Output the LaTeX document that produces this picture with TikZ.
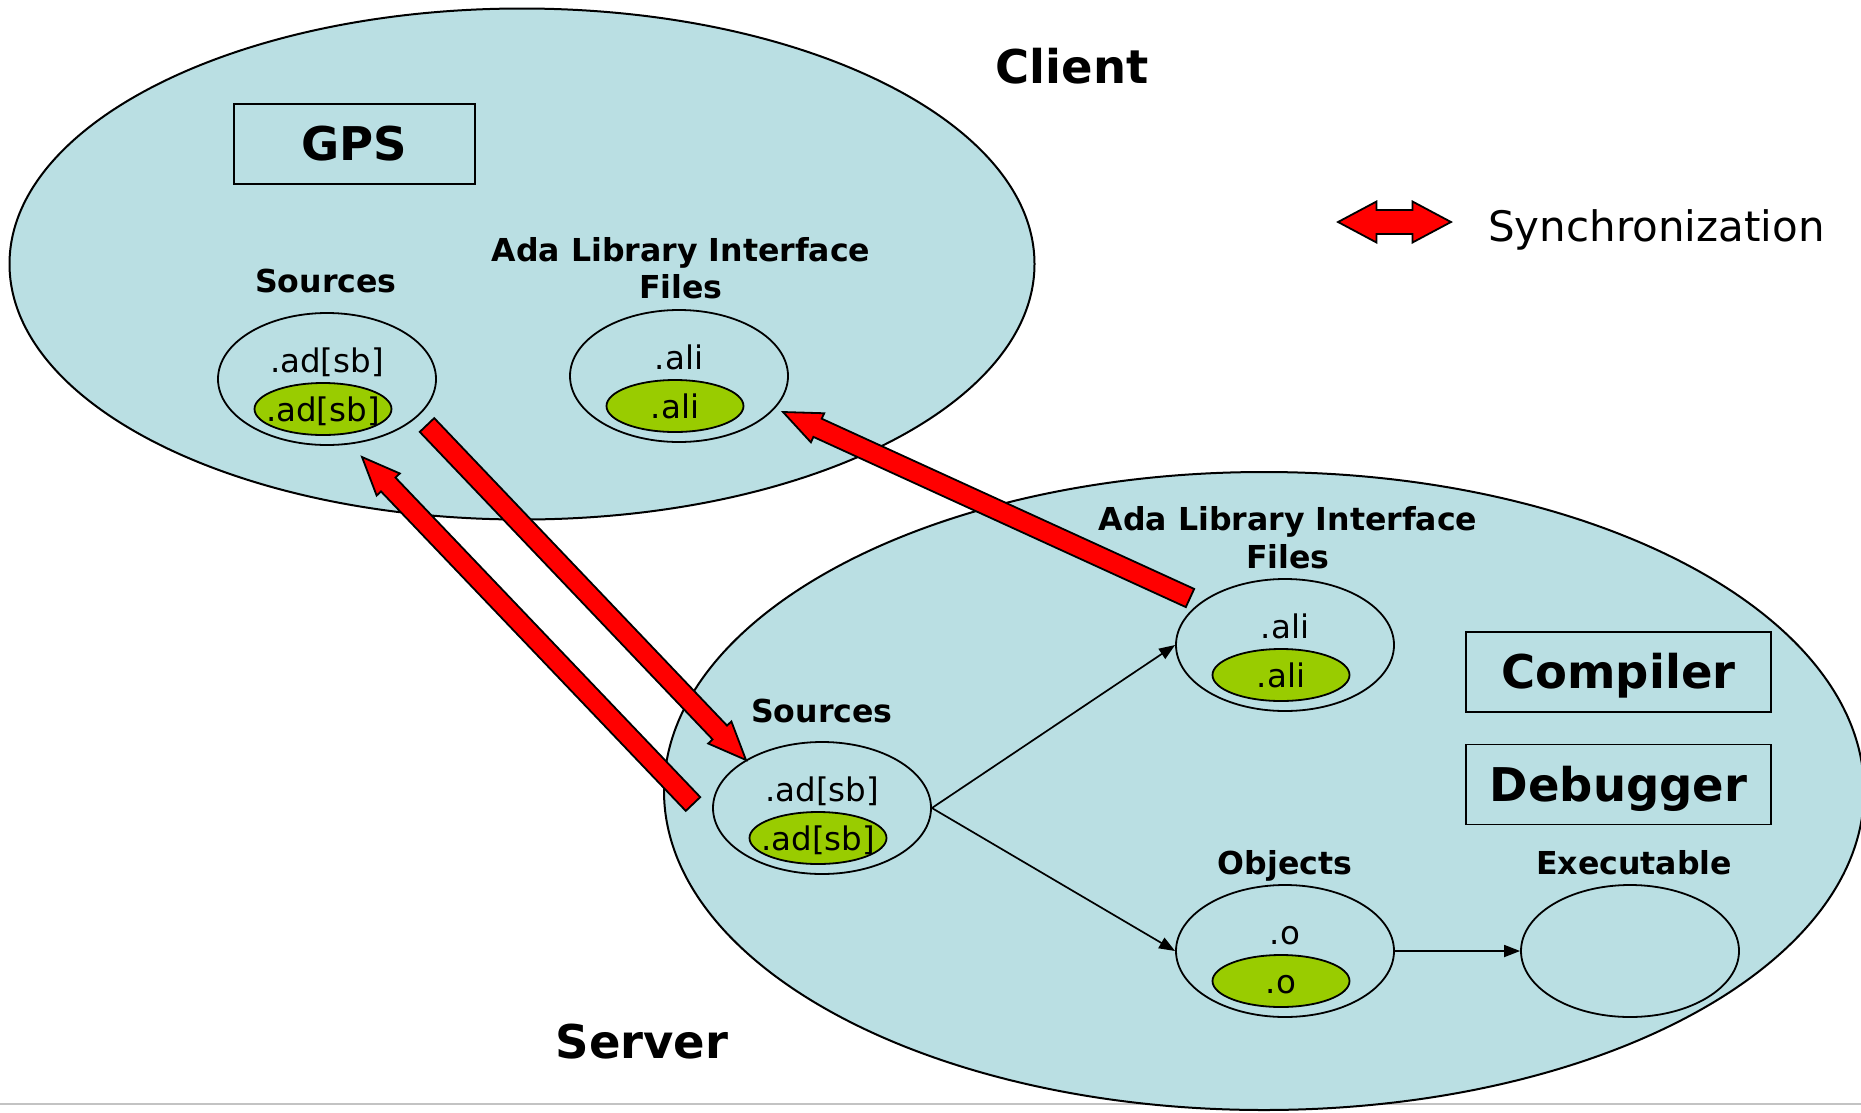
\documentclass[tikz,border=0pt]{standalone}
\usepackage{fontspec}
\setmainfont{DejaVu Sans}
\usetikzlibrary{shapes.geometric,arrows.meta,calc}

\definecolor{pool}{RGB}{186,223,227}
\definecolor{leaf}{RGB}{153,204,0}
\definecolor{sync}{RGB}{255,0,0}
\definecolor{rulegray}{RGB}{195,195,195}

\tikzset{
  region/.style={ellipse, draw=black, line width=2pt, fill=pool, inner sep=0pt},
  filebag/.style={ellipse, draw=black, line width=1.8pt, inner sep=0pt,
    minimum width=218pt, minimum height=132pt},
  filechip/.style={ellipse, draw=black, line width=1.8pt, fill=leaf, inner sep=0pt,
    minimum width=137pt, minimum height=52pt},
  ext/.style={font=\fontsize{32.5}{39}\selectfont, inner sep=0pt, anchor=base},
  caption/.style={font=\bfseries\fontsize{31.6}{38}\selectfont, inner sep=0pt, anchor=base},
  title/.style={font=\bfseries\fontsize{46.5}{55}\selectfont, inner sep=0pt, anchor=base},
  toolbox/.style={draw=black, line width=1.8pt, inner sep=0pt,
    minimum height=80pt, text height=33pt, text depth=0pt,
    font=\bfseries\fontsize{46.5}{55}\selectfont},
  flow/.style={line width=1.7pt, -{Triangle[length=16pt,width=12pt]}},
  syncbody/.style={fill=sync, draw=black, line width=1.8pt, line join=miter},
}

% a file set: outer ellipse, its extension, and the inner green ellipse
\newcommand\filegroup[4]{%
  \node[filebag] (#1) at (#2,#3) {};
  \node[ext] (#1-top) at ($(#1)+(0,-7)$) {#4};
  \node[filechip] (#1-chip) at ($(#1)+(-4,30)$) {};
  \node[ext] (#1-low) at ($(#1)+(-4,42)$) {#4};
}

% a thick red synchronization arrow from a tail point to a tip point
\newcommand\syncarrow[3]{%
  \coordinate (#3) at ($(#2)!38pt!(#1)$);
  \draw[syncbody] ($(#1)!10pt!90:(#2)$) -- ($(#3)!10pt!90:(#2)$)
    -- ($(#3)!16pt!90:(#2)$) -- (#2) -- ($(#3)!16pt!-90:(#2)$)
    -- ($(#3)!10pt!-90:(#2)$) -- ($(#1)!10pt!-90:(#2)$) -- cycle;
}

\begin{document}
\begin{tikzpicture}[x=1pt,y=-1pt]
\useasboundingbox (0,0) rectangle (1861,1112);

% page rule
\draw[rulegray, line width=1.5pt] (0,1104) -- (1861,1104);

% the two machines
\node[region, minimum width=1025pt, minimum height=511pt] (client) at (522,264) {};
\node[region, minimum width=1200pt, minimum height=638pt] (server) at (1264,791) {};

\node[title] (clientname) at (1072,83) {Client};
\node[title] (servername) at (642,1058) {Server};

% tools
\node[toolbox, minimum width=241pt] (gps) at (354.5,144) {GPS};
\node[toolbox, minimum width=305pt] (compiler) at (1618.5,672) {Compiler};
\node[toolbox, minimum width=305pt] (debugger) at (1618.5,784.5) {Debugger};

% client side files
\node[caption] (cSrcCap) at (326,292) {Sources};
\filegroup{cSrc}{327}{379}{.ad[sb]}
\node[caption] (cAliCap1) at (681,261) {Ada Library Interface};
\node[caption] (cAliCap2) at (681,298) {Files};
\filegroup{cAli}{679}{376}{.ali}

% server side files
\node[caption] (sSrcCap) at (822,722) {Sources};
\filegroup{sSrc}{822}{808}{.ad[sb]}
\node[caption] (sAliCap1) at (1288,530) {Ada Library Interface};
\node[caption] (sAliCap2) at (1288,568) {Files};
\filegroup{sAli}{1285}{645}{.ali}
\node[caption] (sObjCap) at (1285,874) {Objects};
\filegroup{sObj}{1285}{951}{.o}
\node[caption] (sExeCap) at (1634,874) {Executable};
\node[filebag] (sExe) at (1630,951) {};

% build flow on the server
\draw[flow] (sSrc.east) -- (sAli.west);
\draw[flow] (sSrc.east) -- (sObj.west);
\draw[flow] (sObj.east) -- (sExe.west);

% synchronization between client and server
\coordinate (upTail) at (427,425);
\coordinate (upTip) at (746,760);
\coordinate (downTail) at (693,804);
\coordinate (downTip) at (362,457);
\coordinate (aliTail) at (1190,598);
\coordinate (aliTip) at (783,412);
\syncarrow{upTail}{upTip}{upBase}
\syncarrow{downTail}{downTip}{downBase}
\syncarrow{aliTail}{aliTip}{aliBase}

% legend
\coordinate (legend) at (1394.5,222);
\draw[syncbody] ($(legend)+(-56.5,0)$) -- ++(38.5,-20.5) -- ++(0,8.5) -- ++(36,0)
  -- ++(0,-8.5) -- ++(38.5,20.5) -- ++(-38.5,20.5) -- ++(0,-8.5) -- ++(-36,0)
  -- ++(0,8.5) -- cycle;
\node[anchor=base west, inner sep=0pt, font=\fontsize{42}{50}\selectfont]
  (legendtext) at (1488,241) {Synchronization};
\end{tikzpicture}
\end{document}
